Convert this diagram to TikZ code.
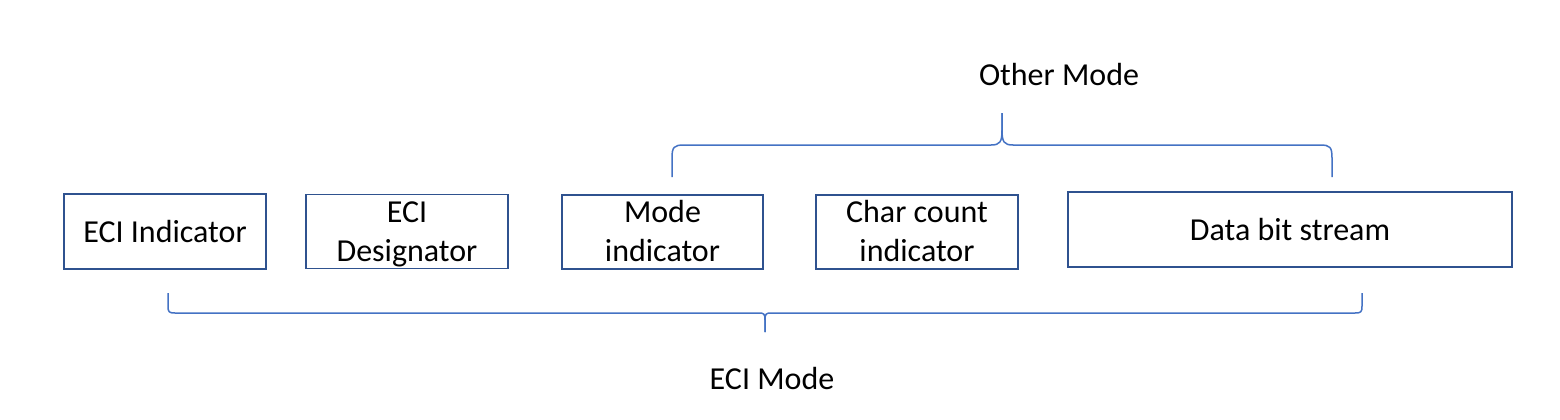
\documentclass[tikz,border=0pt]{standalone}
\usepackage{fontspec}
\setmainfont{Carlito}
\definecolor{boxline}{HTML}{2F528F}
\definecolor{braceline}{HTML}{4472C4}
\begin{document}
\begin{tikzpicture}[x=1pt,y=-1pt,
  box/.style={draw=boxline,line width=1.8pt,inner sep=0pt,align=center,
    font=\fontsize{32}{39}\selectfont},
  txt/.style={inner sep=0pt,align=center,font=\fontsize{32}{39}\selectfont},
  lbl/.style={inner sep=0pt,font=\fontsize{32}{37}\selectfont},
  brace/.style={draw=braceline,line width=1.5pt}]
\useasboundingbox[fill=white] (0,0) rectangle (1560,420);
\node[box,minimum width=202pt,minimum height=75pt] (b1) at (165,231.5) {ECI Indicator};
\node[box,minimum width=202pt,minimum height=74pt] (b2) at (407,231.5) {};
\node[txt,yshift=-2.5pt] (t2) at (b2.center) {ECI\strut\\Designator\strut};
\node[box,minimum width=201pt,minimum height=74pt] (b3) at (662.5,232) {};
\node[txt,yshift=-2.5pt] (t3) at (b3.center) {Mode\strut\\indicator\strut};
\node[box,minimum width=202pt,minimum height=74pt] (b4) at (917,232) {};
\node[txt,yshift=-2.5pt] (t4) at (b4.center) {Char count\strut\\indicator\strut};
\node[box,minimum width=444pt,minimum height=75pt] (b5) at (1290,229.5) {Data bit stream};
% top brace
\coordinate (tl) at (672,177);
\coordinate (tr) at (1332,177);
\coordinate (tt) at (1002,113);
\draw[brace] (tl) -- (672,158) .. controls (672,147) and (674,145) .. (684,145)
  -- (991,145) .. controls (1000,145) and (1002,142) .. (1002,130) -- (tt);
\draw[brace] (tt) -- (1002,130) .. controls (1002,142) and (1004,145) .. (1013,145)
  -- (1320,145) .. controls (1330,145) and (1332,147) .. (1332,158) -- (tr);
\node[lbl] (other) at (1059,75) {Other Mode};
% bottom brace
\coordinate (bl) at (168,293);
\coordinate (br) at (1362,293);
\coordinate (bt) at (765,332);
\draw[brace] (bl) -- (168,306) .. controls (168,312) and (169,313) .. (175,313)
  -- (759,313) .. controls (764,313) and (765,314) .. (765,320) -- (bt);
\draw[brace] (bt) -- (765,320) .. controls (765,314) and (766,313) .. (771,313)
  -- (1355,313) .. controls (1361,313) and (1362,312) .. (1362,306) -- (br);
\node[lbl] (eci) at (772,378) {ECI Mode};
\end{tikzpicture}
\end{document}
